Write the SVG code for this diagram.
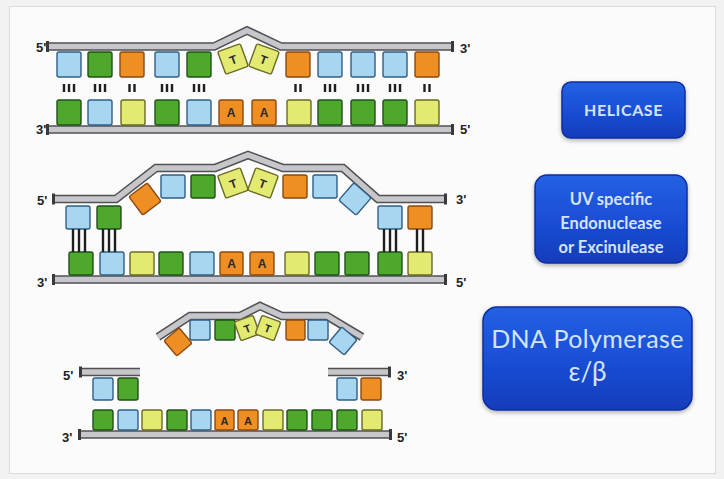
<svg xmlns="http://www.w3.org/2000/svg" width="724" height="479" viewBox="0 0 724 479">
  <defs>
    <linearGradient id="boxFill" x1="0" y1="0" x2="0" y2="1">
      <stop offset="0" stop-color="#2460e2"/>
      <stop offset="0.5" stop-color="#1a4fd6"/>
      <stop offset="1" stop-color="#143cba"/>
    </linearGradient>
    <filter id="shadow" x="-10%" y="-10%" width="120%" height="130%">
      <feDropShadow dx="0" dy="2" stdDeviation="2" flood-color="#000" flood-opacity="0.3"/>
    </filter>
  </defs>
  <style>
    .bg { fill: #f2f2f2; }
    .frame { fill: #fbfbfb; stroke: #dcdcdc; stroke-width: 1; }
    .bar-o { fill: none; stroke: #505054; stroke-width: 8.5; stroke-linejoin: miter; }
    .bar-i { fill: none; stroke: #c6c6cb; stroke-width: 5.5; stroke-linejoin: miter; }
    .cap { fill: #3a3a3e; }
    .b { fill: #a8d6f0; stroke: #2f5f86; stroke-width: 1.4; }
    .g { fill: #4ea82c; stroke: #21501a; stroke-width: 1.4; }
    .o { fill: #ef8e22; stroke: #8a4a12; stroke-width: 1.4; }
    .y { fill: #e3ea72; stroke: #6b6a26; stroke-width: 1.4; }
    .hb { stroke: #1e1e1e; stroke-width: 2.4; }
    .end { font-family: "Liberation Sans", Arial, sans-serif; font-weight: bold; font-size: 13px; fill: #222; }
    .nuc { font-family: "Liberation Sans", Arial, sans-serif; font-weight: bold; font-size: 12px; fill: #2a2a2a; text-anchor: middle; }
    .box { fill: url(#boxFill); stroke: #0e2f9e; stroke-width: 1.5; filter: url(#shadow); }
    .lbl { font-family: Lato, "Open Sans", sans-serif; fill: #d4e4ff; text-anchor: middle; }
  </style>

  <rect class="bg" x="0" y="0" width="724" height="479"/>
  <rect class="frame" x="9.5" y="6.5" width="706" height="467"/>

  <!-- ===== Stage 1: intact duplex with thymine dimer ===== -->
  <g id="stage1">
    <g id="s1-top-strand">
      <polyline class="bar-o" points="48,46.5 214,46.5 247,30.5 281,46.5 452,46.5"/>
      <polyline class="bar-i" points="48,46.5 214,46.5 247,30.5 281,46.5 452,46.5"/>
      <rect class="cap" x="46" y="41" width="3" height="11"/>
      <rect class="cap" x="451" y="41" width="3" height="11"/>
    </g>
    <g id="s1-bottom-strand">
      <polyline class="bar-o" points="48,129.5 452,129.5"/>
      <polyline class="bar-i" points="48,129.5 452,129.5"/>
      <rect class="cap" x="46" y="124" width="3" height="11"/>
      <rect class="cap" x="451" y="124" width="3" height="11"/>
    </g>
    <text class="end" x="36" y="52">5'</text>
    <text class="end" x="36" y="134">3'</text>
    <text class="end" x="460" y="53">3'</text>
    <text class="end" x="460" y="134">5'</text>

    <g id="s1-top-bases">
      <rect class="b" x="57" y="52" width="24" height="25" rx="2"/>
      <rect class="g" x="88" y="52" width="24" height="25" rx="2"/>
      <rect class="o" x="120" y="52" width="24" height="25" rx="2"/>
      <rect class="b" x="155" y="52" width="24" height="25" rx="2"/>
      <rect class="g" x="187" y="52" width="24" height="25" rx="2"/>
      <g transform="translate(233,59) rotate(-20)">
        <rect class="y" x="-12" y="-12" width="24" height="24" rx="2"/>
        <text class="nuc" x="0" y="5">T</text>
      </g>
      <g transform="translate(264,59) rotate(20)">
        <rect class="y" x="-12" y="-12" width="24" height="24" rx="2"/>
        <text class="nuc" x="0" y="5">T</text>
      </g>
      <rect class="o" x="286" y="52" width="24" height="25" rx="2"/>
      <rect class="b" x="318" y="52" width="24" height="25" rx="2"/>
      <rect class="b" x="351" y="52" width="24" height="25" rx="2"/>
      <rect class="b" x="383" y="52" width="24" height="25" rx="2"/>
      <rect class="o" x="415" y="52" width="24" height="25" rx="2"/>
    </g>
    <g id="s1-bottom-bases">
      <rect class="g" x="57" y="100" width="24" height="25" rx="2"/>
      <rect class="b" x="88" y="100" width="24" height="25" rx="2"/>
      <rect class="y" x="121" y="100" width="24" height="25" rx="2"/>
      <rect class="g" x="155" y="100" width="24" height="25" rx="2"/>
      <rect class="b" x="187" y="100" width="24" height="25" rx="2"/>
      <rect class="o" x="219" y="100" width="24" height="25" rx="2"/>
      <text class="nuc" x="231" y="117">A</text>
      <rect class="o" x="252" y="100" width="24" height="25" rx="2"/>
      <text class="nuc" x="264" y="117">A</text>
      <rect class="y" x="287" y="100" width="24" height="25" rx="2"/>
      <rect class="g" x="318" y="100" width="24" height="25" rx="2"/>
      <rect class="g" x="351" y="100" width="24" height="25" rx="2"/>
      <rect class="g" x="383" y="100" width="24" height="25" rx="2"/>
      <rect class="y" x="415" y="100" width="24" height="25" rx="2"/>
    </g>
  </g>

  <!-- ===== Stage 2: unwound bubble around the lesion ===== -->
  <g id="stage2">
    <g id="s2-top-strand">
      <polyline class="bar-o" points="54,199 116,199 156,168 215,168 248,155 283,168 343,168 378,199 445,199"/>
      <polyline class="bar-i" points="54,199 116,199 156,168 215,168 248,155 283,168 343,168 378,199 445,199"/>
      <rect class="cap" x="52" y="193.5" width="3" height="11"/>
      <rect class="cap" x="444" y="193.5" width="3" height="11"/>
    </g>
    <g id="s2-bottom-strand">
      <polyline class="bar-o" points="54,279.5 445,279.5"/>
      <polyline class="bar-i" points="54,279.5 445,279.5"/>
      <rect class="cap" x="52" y="274" width="3" height="11"/>
      <rect class="cap" x="444" y="274" width="3" height="11"/>
    </g>
    <text class="end" x="37" y="205">5'</text>
    <text class="end" x="37" y="287">3'</text>
    <text class="end" x="456" y="204">3'</text>
    <text class="end" x="456" y="287">5'</text>

    <g id="s2-top-bases">
      <rect class="b" x="66" y="206" width="24" height="23" rx="2"/>
      <rect class="g" x="97" y="206" width="24" height="23" rx="2"/>
      <rect class="o" x="-11.5" y="-11.5" width="23" height="23" rx="2" transform="translate(145,199) rotate(-37)"/>
      <rect class="b" x="161" y="175" width="24" height="23" rx="2"/>
      <rect class="g" x="191" y="175" width="24" height="23" rx="2"/>
      <g transform="translate(233,183) rotate(-20)">
        <rect class="y" x="-12" y="-12" width="24" height="24" rx="2"/>
        <text class="nuc" x="0" y="5">T</text>
      </g>
      <g transform="translate(263,183) rotate(20)">
        <rect class="y" x="-12" y="-12" width="24" height="24" rx="2"/>
        <text class="nuc" x="0" y="5">T</text>
      </g>
      <rect class="o" x="283" y="175" width="24" height="23" rx="2"/>
      <rect class="b" x="313" y="175" width="24" height="23" rx="2"/>
      <rect class="b" x="-11.5" y="-11.5" width="23" height="23" rx="2" transform="translate(355,199) rotate(41)"/>
      <rect class="b" x="378" y="206" width="24" height="23" rx="2"/>
      <rect class="o" x="408" y="206" width="24" height="23" rx="2"/>
    </g>
    <g id="s2-bottom-bases">
      <rect class="g" x="69" y="252" width="24" height="23" rx="2"/>
      <rect class="b" x="100" y="252" width="24" height="23" rx="2"/>
      <rect class="y" x="130" y="252" width="24" height="23" rx="2"/>
      <rect class="g" x="159" y="252" width="24" height="23" rx="2"/>
      <rect class="b" x="190" y="252" width="24" height="23" rx="2"/>
      <rect class="o" x="220" y="252" width="23" height="23" rx="2"/>
      <text class="nuc" x="231.5" y="268">A</text>
      <rect class="o" x="250" y="252" width="24" height="23" rx="2"/>
      <text class="nuc" x="262" y="268">A</text>
      <rect class="y" x="285" y="252" width="24" height="23" rx="2"/>
      <rect class="g" x="315" y="252" width="24" height="23" rx="2"/>
      <rect class="g" x="345" y="252" width="24" height="23" rx="2"/>
      <rect class="g" x="378" y="252" width="24" height="23" rx="2"/>
      <rect class="y" x="408" y="252" width="24" height="23" rx="2"/>
    </g>
  </g>

  <!-- ===== Stage 3: excised oligonucleotide and gapped duplex ===== -->
  <g id="stage3">
    <g id="s3-fragment">
      <polyline class="bar-o" points="158,337 190,316 240,316 260,306 282,316 327,316 362,337"/>
      <polyline class="bar-i" points="158,337 190,316 240,316 260,306 282,316 327,316 362,337"/>
      <rect class="o" x="-10" y="-10" width="20" height="20" rx="2" transform="translate(178,342) rotate(-40)"/>
      <rect class="b" x="190" y="320" width="20" height="20" rx="2"/>
      <rect class="g" x="215" y="320" width="20" height="20" rx="2"/>
      <g transform="translate(247,328) rotate(-20)">
        <rect class="y" x="-10" y="-10" width="20" height="20" rx="2"/>
        <text class="nuc" x="0" y="4.5" style="font-size:11px">T</text>
      </g>
      <g transform="translate(268,328) rotate(20)">
        <rect class="y" x="-10" y="-10" width="20" height="20" rx="2"/>
        <text class="nuc" x="0" y="4.5" style="font-size:11px">T</text>
      </g>
      <rect class="o" x="286" y="320" width="19" height="20" rx="2"/>
      <rect class="b" x="308" y="320" width="20" height="20" rx="2"/>
      <rect class="b" x="-10" y="-10" width="20" height="20" rx="2" transform="translate(343,341) rotate(40)"/>
    </g>

    <g id="s3-left-stub">
      <polyline class="bar-o" points="81,372 140,372"/>
      <polyline class="bar-i" points="81,372 140,372"/>
      <rect class="cap" x="79" y="366.5" width="3" height="11"/>
      <rect class="b" x="93" y="378" width="20" height="22" rx="2"/>
      <rect class="g" x="118" y="378" width="20" height="22" rx="2"/>
    </g>
    <text class="end" x="63" y="380">5'</text>

    <g id="s3-right-stub">
      <polyline class="bar-o" points="328,372 389,372"/>
      <polyline class="bar-i" points="328,372 389,372"/>
      <rect class="cap" x="388" y="366.5" width="3" height="11"/>
      <rect class="b" x="337" y="378" width="20" height="22" rx="2"/>
      <rect class="o" x="361" y="378" width="20" height="22" rx="2"/>
    </g>
    <text class="end" x="397" y="380">3'</text>

    <g id="s3-bottom-strand">
      <polyline class="bar-o" points="80,434.5 390,434.5"/>
      <polyline class="bar-i" points="80,434.5 390,434.5"/>
      <rect class="cap" x="78" y="429" width="3" height="11"/>
      <rect class="cap" x="389" y="429" width="3" height="11"/>
      <rect class="g" x="93" y="410" width="20" height="20" rx="2"/>
      <rect class="b" x="118" y="410" width="20" height="20" rx="2"/>
      <rect class="y" x="142" y="410" width="20" height="20" rx="2"/>
      <rect class="g" x="167" y="410" width="20" height="20" rx="2"/>
      <rect class="b" x="191" y="410" width="20" height="20" rx="2"/>
      <rect class="o" x="215" y="410" width="19" height="20" rx="2"/>
      <text class="nuc" x="224.5" y="424.5" style="font-size:11px">A</text>
      <rect class="o" x="238" y="410" width="20" height="20" rx="2"/>
      <text class="nuc" x="248" y="424.5" style="font-size:11px">A</text>
      <rect class="y" x="263" y="410" width="20" height="20" rx="2"/>
      <rect class="g" x="287" y="410" width="20" height="20" rx="2"/>
      <rect class="g" x="312" y="410" width="20" height="20" rx="2"/>
      <rect class="g" x="337" y="410" width="20" height="20" rx="2"/>
      <rect class="y" x="362" y="410" width="20" height="20" rx="2"/>
    </g>
    <text class="end" x="62" y="442">3'</text>
    <text class="end" x="397" y="442">5'</text>
  </g>

  <!-- hydrogen bonds between paired bases -->
  <g id="connectors">
    <!-- stage 1 -->
    <g class="hb">
      <line x1="64" y1="84" x2="64" y2="92"/><line x1="69" y1="84" x2="69" y2="92"/><line x1="74" y1="84" x2="74" y2="92"/>
      <line x1="95" y1="84" x2="95" y2="92"/><line x1="100" y1="84" x2="100" y2="92"/><line x1="105" y1="84" x2="105" y2="92"/>
      <line x1="129.5" y1="84" x2="129.5" y2="92"/><line x1="134.5" y1="84" x2="134.5" y2="92"/>
      <line x1="162" y1="84" x2="162" y2="92"/><line x1="167" y1="84" x2="167" y2="92"/><line x1="172" y1="84" x2="172" y2="92"/>
      <line x1="194" y1="84" x2="194" y2="92"/><line x1="199" y1="84" x2="199" y2="92"/><line x1="204" y1="84" x2="204" y2="92"/>
      <line x1="295.5" y1="84" x2="295.5" y2="92"/><line x1="300.5" y1="84" x2="300.5" y2="92"/>
      <line x1="325" y1="84" x2="325" y2="92"/><line x1="330" y1="84" x2="330" y2="92"/><line x1="335" y1="84" x2="335" y2="92"/>
      <line x1="358" y1="84" x2="358" y2="92"/><line x1="363" y1="84" x2="363" y2="92"/><line x1="368" y1="84" x2="368" y2="92"/>
      <line x1="390" y1="84" x2="390" y2="92"/><line x1="395" y1="84" x2="395" y2="92"/><line x1="400" y1="84" x2="400" y2="92"/>
      <line x1="424.5" y1="84" x2="424.5" y2="92"/><line x1="429.5" y1="84" x2="429.5" y2="92"/>
    </g>
    <!-- stage 2 -->
    <g class="hb">
      <line x1="73" y1="229" x2="73" y2="252"/><line x1="79" y1="229" x2="79" y2="252"/><line x1="85" y1="229" x2="85" y2="252"/>
      <line x1="103" y1="229" x2="103" y2="252"/><line x1="109" y1="229" x2="109" y2="252"/><line x1="115" y1="229" x2="115" y2="252"/>
      <line x1="384" y1="229" x2="384" y2="252"/><line x1="390" y1="229" x2="390" y2="252"/><line x1="396" y1="229" x2="396" y2="252"/>
      <line x1="417" y1="229" x2="417" y2="252"/><line x1="423" y1="229" x2="423" y2="252"/>
    </g>
  </g>

  <!-- enzyme labels -->
  <g id="helicase">
    <rect class="box" x="562" y="82" width="123" height="56" rx="9"/>
    <text class="lbl" x="623.5" y="116" style="font-size:16px;letter-spacing:0.6px;font-weight:bold">HELICASE</text>
  </g>
  <g id="endonuclease">
    <rect class="box" x="535" y="175" width="152" height="88" rx="12"/>
    <text class="lbl" x="611" y="205" style="font-size:16.5px;font-weight:bold">UV specific</text>
    <text class="lbl" x="611" y="229" style="font-size:16.5px;font-weight:bold">Endonuclease</text>
    <text class="lbl" x="611" y="253" style="font-size:16.5px;font-weight:bold">or Excinulease</text>
  </g>
  <g id="polymerase">
    <rect class="box" x="483" y="307" width="209" height="103" rx="14"/>
    <text class="lbl" x="587.5" y="348" style="font-size:25px;letter-spacing:0.4px">DNA Polymerase</text>
    <text class="lbl" x="587.5" y="381" style="font-size:26px">ε/β</text>
  </g>
</svg>
